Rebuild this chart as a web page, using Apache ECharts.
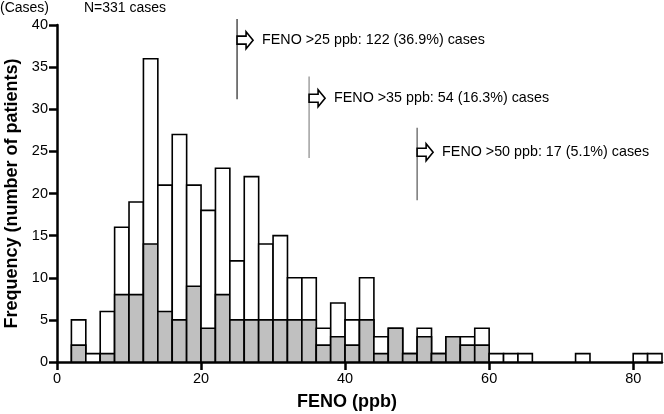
<!DOCTYPE html>
<html>
<head>
<meta charset="utf-8">
<script src="https://cdn.jsdelivr.net/npm/echarts@6/dist/echarts.min.js"></script>
<style>html,body{margin:0;padding:0;background:#fff}#c{width:664px;height:414px}</style>
</head>
<body>
<div id="c"></div>
<script>
// Histogram bins (FENO ppb), width 2
var binStarts = [0,2,4,6,8,10,12,14,16,18,20,22,24,26,28,30,32,34,36,38,40,42,44,46,48,50,52,54,56,58,60,62,64,66,68,70,72,74,76,78,80,82];
var binWidth = 2;
var totalCounts = [0,5,1,6,16,19,36,21,27,21,18,23,12,22,14,15,10,10,4,7,5,10,3,4,1,4,1,3,3,4,1,1,1,0,0,0,1,0,0,0,1,1];
var grayCounts  = [0,2,0,1,8,8,14,6,5,9,4,8,5,5,5,5,5,5,2,3,2,5,1,4,1,3,1,3,2,2,0,0,0,0,0,0,0,0,0,0,0,0];
var xTicks = [0,20,40,60,80];

// Threshold annotations
var annoX = [25,35,50];
var annoTop = [40.7,33.9,27.8];
var annoBottom = [31.2,24.2,19.2];
var annoArrowY = [38.2,31.3,24.9];
var annoTexts = ['FENO >25 ppb: 122 (36.9%) cases','FENO >35 ppb: 54 (16.3%) cases','FENO >50 ppb: 17 (5.1%) cases'];
var annoLineColors = ['#222','#888','#555'];

var FONT = '"Liberation Sans", Arial, Helvetica, sans-serif';

var barData = [];
for (var i = 0; i < binStarts.length; i++) {
  barData.push([binStarts[i], binStarts[i] + binWidth, totalCounts[i], grayCounts[i]]);
}
var annoData = [];
for (var j = 0; j < annoX.length; j++) {
  annoData.push([annoX[j], annoTop[j], annoBottom[j], annoArrowY[j]]);
}

var chart = echarts.init(document.getElementById('c'));
chart.setOption({
  animation: false,
  textStyle: {fontFamily: FONT},
  grid: {left: 57, right: 2, top: 25, bottom: 52, outerBoundsMode: 'none'},
  xAxis: {
    type: 'value', min: 0, max: 84,
    axisLine: {show: true, lineStyle: {color: '#000', width: 2.5}},
    axisTick: {show: true, length: 8, lineStyle: {color: '#000', width: 2.5}, customValues: xTicks},
    axisLabel: {fontSize: 14.5, color: '#000', margin: 9, customValues: xTicks},
    splitLine: {show: false}
  },
  yAxis: {
    type: 'value', min: 0, max: 40, interval: 5,
    name: 'Frequency (number of patients)', nameLocation: 'middle', nameGap: 34,
    nameTextStyle: {fontSize: 18, fontWeight: 'bold', color: '#000'},
    axisLine: {show: true, lineStyle: {color: '#000', width: 2.5}},
    axisTick: {show: true, length: 8, lineStyle: {color: '#000', width: 2.5}},
    axisLabel: {fontSize: 14.5, color: '#000', margin: 9},
    splitLine: {show: false}
  },
  graphic: [
    {type: 'text', left: 0, top: 1, style: {text: '(Cases)', fontSize: 14, fill: '#000', fontFamily: FONT}},
    {type: 'text', left: 84, top: 1, style: {text: 'N=331 cases', fontSize: 14, fill: '#000', fontFamily: FONT}},
    {type: 'text', left: 297, top: 393, style: {text: 'FENO (ppb)', fontSize: 18, fontWeight: 'bold', fill: '#000', fontFamily: FONT}}
  ],
  series: [
    {
      type: 'custom',
      data: barData,
      encode: {x: [0, 1], y: [2]},
      renderItem: function (params, api) {
        var s = api.value(0), e = api.value(1), t = api.value(2), g = api.value(3);
        var children = [];
        if (t > 0) {
          var p0 = api.coord([s, t]), p1 = api.coord([e, 0]);
          children.push({type: 'rect', shape: {x: p0[0], y: p0[1], width: p1[0] - p0[0], height: p1[1] - p0[1]},
            style: {fill: '#fff', stroke: '#000', lineWidth: 1.6}});
        }
        if (g > 0) {
          var q0 = api.coord([s, g]), q1 = api.coord([e, 0]);
          children.push({type: 'rect', shape: {x: q0[0], y: q0[1], width: q1[0] - q0[0], height: q1[1] - q0[1]},
            style: {fill: '#c0c0c0', stroke: '#000', lineWidth: 1.6}});
        }
        return {type: 'group', children: children};
      }
    },
    {
      type: 'custom',
      data: annoData,
      clip: false,
      encode: {x: 0, y: [1, 2]},
      renderItem: function (params, api) {
        var idx = params.dataIndex;
        var x = api.value(0);
        var top = api.coord([x, api.value(1)]);
        var bot = api.coord([x, api.value(2)]);
        var ap = api.coord([x, api.value(3)]);
        var px = top[0], py = ap[1];
        return {type: 'group', children: [
          {type: 'line', shape: {x1: px, y1: top[1], x2: px, y2: bot[1]},
            style: {stroke: annoLineColors[idx], lineWidth: 1.2}},
          {type: 'polygon', shape: {points: [[px, py - 4], [px + 9, py - 4], [px + 9, py - 8.5], [px + 16, py], [px + 9, py + 8.5], [px + 9, py + 4], [px, py + 4]]},
            style: {fill: '#fff', stroke: '#000', lineWidth: 1.6}},
          {type: 'text', x: px + 25, y: py, style: {text: annoTexts[idx], fontSize: 14.3, fill: '#000', fontFamily: FONT, verticalAlign: 'middle', align: 'left'}}
        ]};
      }
    }
  ]
});
</script>
</body>
</html>
